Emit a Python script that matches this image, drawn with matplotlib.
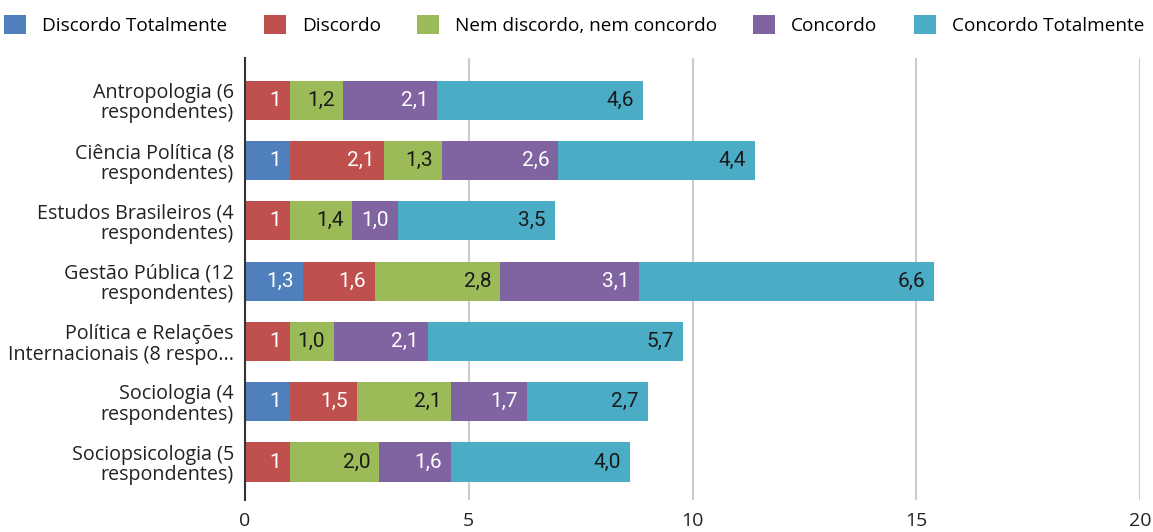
import matplotlib.pyplot as plt
from matplotlib.patches import Patch
import numpy as np

categories = [
    "Antropologia (6\nrespondentes)",
    "Ciência Política (8\nrespondentes)",
    "Estudos Brasileiros (4\nrespondentes)",
    "Gestão Pública (12\nrespondentes)",
    "Política e Relações\nInternacionais (8 respo...",
    "Sociologia (4\nrespondentes)",
    "Sociopsicologia (5\nrespondentes)",
]
series_names = ["Discordo Totalmente", "Discordo", "Nem discordo, nem concordo",
                "Concordo", "Concordo Totalmente"]
# whole numbers (int) are shown without decimals, like the original
discordo_totalmente = [0, 1, 0, 1.3, 0, 1, 0]
discordo = [1, 2.1, 1, 1.6, 1, 1.5, 1]
nem_nem = [1.2, 1.3, 1.4, 2.8, 0.98, 2.1, 2.0]
concordo = [2.1, 2.6, 1.02, 3.1, 2.1, 1.7, 1.6]
concordo_totalmente = [4.6, 4.4, 3.5, 6.6, 5.7, 2.7, 4.0]

colors = ["#4f7fbc", "#c0504d", "#9bbb59", "#8064a2", "#4bacc6"]
text_colors = ["white", "white", "#1a1a1a", "white", "#1a1a1a"]

plt.rcParams["font.family"] = ["Roboto", "DejaVu Sans"]

fig = plt.figure(figsize=(11.53, 5.32), dpi=100)
ax = fig.add_axes([245 / 1153, 1 - 500 / 532, (1140 - 245) / 1153, (500 - 58) / 532])

y = np.arange(len(categories))
left = np.zeros(len(categories))
for raw, col, tcol in zip([discordo_totalmente, discordo, nem_nem, concordo, concordo_totalmente],
                          colors, text_colors):
    vals = np.array(raw, dtype=float)
    ax.barh(y, vals, left=left, height=0.65, color=col, linewidth=0, zorder=3)
    for yi, (l, v) in enumerate(zip(left, raw)):
        if v <= 0:
            continue
        label = str(v) if isinstance(v, int) else f"{v:.1f}".replace(".", ",")
        ax.annotate(label, xy=(l + v, yi), xytext=(-9, 0), textcoords="offset pixels",
                    ha="right", va="center", fontsize=15, color=tcol, zorder=4)
    left += vals

ax.set_xlim(0, 20)
ax.set_ylim(6.63, -0.7)
ax.set_xticks([0, 5, 10, 15, 20])
ax.set_xticklabels(["0", "5", "10", "15", "20"], family=["Open Sans", "DejaVu Sans"], fontsize=14)
ax.set_yticks(y)
ax.set_yticklabels(categories, fontsize=14.2, family=["Open Sans", "DejaVu Sans"],
                   color="#222222", linespacing=1.05)
ax.tick_params(axis="x", length=0, colors="#222222", pad=9)
ax.tick_params(axis="y", length=0, pad=8)
ax.grid(axis="x", color="#cccccc", linewidth=1.5, zorder=0)
for s in ["top", "right", "bottom"]:
    ax.spines[s].set_visible(False)
ax.spines["left"].set_color("#333333")
ax.spines["left"].set_linewidth(1.5)
ax.spines["left"].set_zorder(5)

handles = [Patch(facecolor=c, edgecolor="none") for c in colors]
fig.legend(handles, series_names, loc="upper center", bbox_to_anchor=(0.498, 0.997), ncol=5,
           frameon=False, handlelength=1.16, handleheight=1.16, borderaxespad=0.3,
           columnspacing=1.9, handletextpad=0.84,
           prop={"family": ["Open Sans", "DejaVu Sans"], "size": 13.7})

fig.savefig("out.png", dpi=100)
